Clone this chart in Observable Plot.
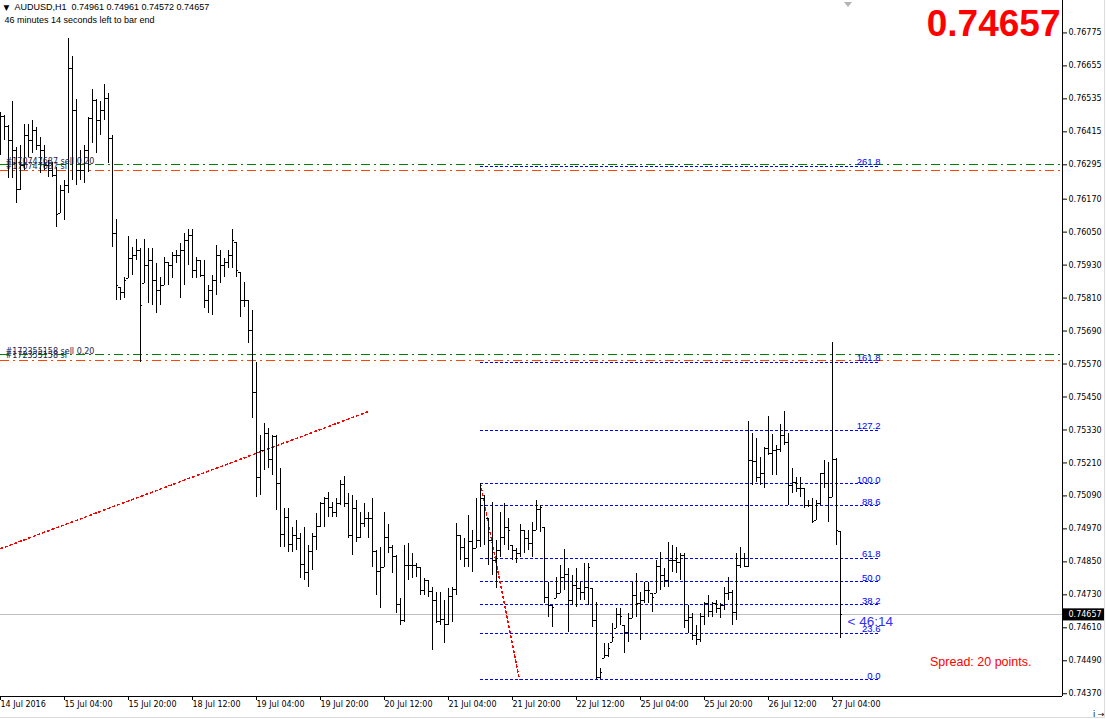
<!DOCTYPE html>
<html>
<head>
<meta charset="utf-8">
<script src="https://cdn.jsdelivr.net/npm/d3@7"></script>
<script src="https://cdn.jsdelivr.net/npm/@observablehq/plot@0.6"></script>
<style>
  body { margin: 0; background: #fff; }
  #wrap { position: relative; width: 1107px; height: 719px; overflow: hidden; }
  #wrap svg { position: absolute; left: 0; top: 0; overflow: visible; }
  .edgeV { position: absolute; left: 1104px; top: 0; width: 1px; height: 718px; background: #dcdcdc; }
  .edgeH { position: absolute; left: 0; top: 717px; width: 1105px; height: 1px; background: #dcdcdc; }
  .shift { position: absolute; left: 844px; top: 2px; width: 0; height: 0;
           border-left: 4px solid transparent; border-right: 4px solid transparent; border-top: 5px solid #b4b4b4; }
</style>
</head>
<body>
<div id="wrap"><div class="edgeV"></div><div class="edgeH"></div><div class="shift"></div></div>
<script>
// ---- AUDUSD H1 bars, index 0 = 14 Jul 2016 12:00 ----
const open = [
0.76420,0.76471,0.76434,0.76383,0.76347,0.76205,0.76292,0.76402,0.76383,0.76420,
0.76365,0.76347,0.76292,0.76274,0.76256,0.76118,0.76201,0.76220,0.76645,0.76493,
0.76274,0.76274,0.76347,0.76463,0.76529,0.76456,0.76493,0.76536,0.76391,0.76045,
0.75848,0.75830,0.75881,0.75954,0.75965,0.75983,0.75863,0.75928,0.75947,0.75874,
0.75837,0.75856,0.75939,0.75928,0.75965,0.75965,0.75983,0.76019,0.76038,0.75910,
0.75947,0.75892,0.75801,0.75837,0.75874,0.75965,0.75928,0.75939,0.75965,0.76012,
0.75903,0.75801,0.75801,0.75692,0.75466,0.75157,0.75255,0.75317,0.75222,0.75306,
0.75135,0.74949,0.75011,0.74913,0.74946,0.74935,0.74840,0.74811,0.74887,0.74942,
0.74978,0.75062,0.75080,0.75048,0.75029,0.75062,0.75131,0.75062,0.74946,0.75044,
0.74938,0.74989,0.75007,0.75007,0.74887,0.74815,0.74829,0.74938,0.74902,0.74869,
0.74694,0.74636,0.74836,0.74836,0.74836,0.74829,0.74745,0.74782,0.74742,0.74709,
0.74633,0.74640,0.74622,0.74724,0.74749,0.74946,0.74902,0.74862,0.74924,0.74898,
0.74927,0.75080,0.75007,0.74927,0.74855,0.74891,0.74938,0.74975,0.74909,0.74891,
0.74880,0.74964,0.74935,0.74917,0.74964,0.75040,0.74975,0.74720,0.74691,0.74716,
0.74735,0.74793,0.74804,0.74709,0.74764,0.74753,0.74738,0.74756,0.74753,0.74636,
0.74429,0.74498,0.74509,0.74556,0.74607,0.74658,0.74618,0.74593,0.74644,0.74727,
0.74698,0.74709,0.74745,0.74735,0.74735,0.74833,0.74800,0.74782,0.74855,0.74855,
0.74847,0.74873,0.74636,0.74647,0.74582,0.74567,0.74651,0.74698,0.74669,0.74698,
0.74680,0.74691,0.74735,0.74738,0.74665,0.74836,0.74862,0.74833,0.75219,0.75215,
0.75157,0.75171,0.75262,0.75244,0.75255,0.75259,0.75310,0.75284,0.75128,0.75138,
0.75117,0.75117,0.75055,0.75055,0.75000,0.75062,0.75171,0.75135,0.75084,0.75222,
0.74961];
const high = [
0.76485,0.76474,0.76438,0.76525,0.76358,0.76365,0.76442,0.76442,0.76456,0.76431,
0.76394,0.76365,0.76311,0.76303,0.76285,0.76220,0.76238,0.76755,0.76689,0.76533,
0.76347,0.76365,0.76467,0.76569,0.76533,0.76525,0.76587,0.76554,0.76402,0.76096,
0.75848,0.75885,0.76034,0.75994,0.76023,0.75990,0.76023,0.75990,0.75990,0.75936,
0.75885,0.75958,0.75939,0.75976,0.75983,0.76009,0.76045,0.76059,0.76059,0.75958,
0.75947,0.75947,0.75856,0.75892,0.76001,0.75983,0.75954,0.75983,0.76059,0.76012,
0.75903,0.75866,0.75801,0.75765,0.75575,0.75310,0.75353,0.75335,0.75310,0.75310,
0.75190,0.75044,0.75044,0.74975,0.75000,0.74953,0.74975,0.74909,0.74953,0.75026,
0.75066,0.75084,0.75102,0.75066,0.75080,0.75146,0.75160,0.75099,0.75091,0.75073,
0.75029,0.75062,0.75029,0.75080,0.74891,0.74902,0.75029,0.74986,0.74909,0.74873,
0.74716,0.74909,0.74917,0.74880,0.74844,0.74829,0.74789,0.74782,0.74756,0.74738,
0.74738,0.74709,0.74753,0.74756,0.74989,0.74946,0.74935,0.75018,0.74964,0.75080,
0.75135,0.75091,0.75007,0.75066,0.74927,0.75029,0.75062,0.75007,0.74909,0.74898,
0.74986,0.74964,0.74964,0.74993,0.75073,0.75055,0.74975,0.74775,0.74691,0.74793,
0.74836,0.74895,0.74826,0.74800,0.74826,0.74775,0.74844,0.74844,0.74753,0.74702,
0.74462,0.74552,0.74552,0.74625,0.74680,0.74680,0.74618,0.74662,0.74775,0.74807,
0.74738,0.74775,0.74775,0.74735,0.74855,0.74884,0.74826,0.74920,0.74909,0.74902,
0.74880,0.74880,0.74691,0.74662,0.74618,0.74662,0.74702,0.74727,0.74702,0.74709,
0.74698,0.74756,0.74793,0.74745,0.74880,0.74902,0.74880,0.75361,0.75317,0.75299,
0.75230,0.75266,0.75379,0.75313,0.75273,0.75350,0.75397,0.75317,0.75190,0.75157,
0.75157,0.75117,0.75073,0.75080,0.75073,0.75171,0.75219,0.75211,0.75648,0.75226,
0.74961];
const low = [
0.76329,0.76383,0.76245,0.76245,0.76154,0.76201,0.76274,0.76321,0.76336,0.76347,
0.76263,0.76274,0.76249,0.76249,0.76067,0.76118,0.76092,0.76190,0.76238,0.76220,
0.76238,0.76227,0.76267,0.76372,0.76336,0.76402,0.76456,0.76300,0.75994,0.75801,
0.75801,0.75808,0.75881,0.75892,0.75947,0.75575,0.75863,0.75790,0.75783,0.75754,
0.75783,0.75856,0.75856,0.75881,0.75936,0.75808,0.75856,0.75928,0.75881,0.75881,
0.75885,0.75772,0.75754,0.75746,0.75819,0.75863,0.75885,0.75918,0.75918,0.75885,
0.75739,0.75775,0.75644,0.75371,0.75084,0.75091,0.75182,0.75190,0.75164,0.75037,
0.74902,0.74902,0.74884,0.74884,0.74891,0.74789,0.74782,0.74756,0.74818,0.74891,
0.74975,0.74975,0.75011,0.75011,0.75011,0.75055,0.75048,0.74935,0.74873,0.74920,
0.74935,0.74975,0.74935,0.74829,0.74727,0.74680,0.74829,0.74880,0.74807,0.74662,
0.74618,0.74629,0.74782,0.74789,0.74793,0.74727,0.74727,0.74720,0.74527,0.74625,
0.74618,0.74552,0.74618,0.74629,0.74727,0.74855,0.74829,0.74829,0.74811,0.74898,
0.74902,0.74909,0.74836,0.74800,0.74753,0.74865,0.74909,0.74891,0.74855,0.74844,
0.74865,0.74880,0.74891,0.74865,0.74964,0.74957,0.74698,0.74647,0.74611,0.74716,
0.74735,0.74745,0.74593,0.74691,0.74683,0.74709,0.74709,0.74691,0.74611,0.74421,
0.74421,0.74498,0.74502,0.74556,0.74607,0.74618,0.74516,0.74556,0.74644,0.74647,
0.74563,0.74698,0.74698,0.74665,0.74735,0.74745,0.74756,0.74756,0.74811,0.74807,
0.74782,0.74607,0.74589,0.74563,0.74545,0.74556,0.74618,0.74647,0.74647,0.74662,
0.74644,0.74673,0.74709,0.74618,0.74636,0.74826,0.74829,0.74829,0.75128,0.75138,
0.75128,0.75117,0.75237,0.75164,0.75164,0.75248,0.75273,0.75055,0.75099,0.75102,
0.75084,0.75044,0.75048,0.74989,0.75000,0.75055,0.75117,0.74993,0.75084,0.74909,
0.74572];
const close = [
0.76471,0.76434,0.76383,0.76347,0.76205,0.76292,0.76402,0.76383,0.76420,0.76365,
0.76347,0.76292,0.76274,0.76256,0.76114,0.76201,0.76220,0.76645,0.76493,0.76274,
0.76274,0.76347,0.76463,0.76529,0.76456,0.76493,0.76536,0.76391,0.76045,0.75856,
0.75830,0.75874,0.75954,0.75965,0.75983,0.75783,0.75928,0.75947,0.75874,0.75837,
0.75856,0.75939,0.75928,0.75965,0.75965,0.75983,0.76019,0.76038,0.75910,0.75947,
0.75892,0.75801,0.75837,0.75874,0.75965,0.75928,0.75939,0.75965,0.76019,0.75910,
0.75801,0.75801,0.75692,0.75466,0.75157,0.75255,0.75317,0.75222,0.75306,0.75135,
0.74949,0.75011,0.74913,0.74946,0.74935,0.74840,0.74811,0.74887,0.74942,0.74978,
0.75062,0.75080,0.75048,0.75029,0.75062,0.75131,0.75062,0.74946,0.75044,0.74938,
0.74989,0.75007,0.75007,0.74887,0.74815,0.74829,0.74938,0.74902,0.74869,0.74694,
0.74636,0.74836,0.74836,0.74836,0.74829,0.74745,0.74782,0.74742,0.74709,0.74633,
0.74640,0.74622,0.74724,0.74749,0.74946,0.74902,0.74862,0.74924,0.74898,0.74927,
0.75080,0.75055,0.74927,0.74855,0.74891,0.74938,0.74975,0.74964,0.74891,0.74880,
0.74964,0.74935,0.74917,0.74964,0.75040,0.75048,0.74720,0.74691,0.74683,0.74735,
0.74793,0.74804,0.74709,0.74764,0.74753,0.74738,0.74756,0.74829,0.74636,0.74429,
0.74447,0.74509,0.74534,0.74574,0.74658,0.74651,0.74593,0.74644,0.74727,0.74698,
0.74709,0.74745,0.74745,0.74720,0.74833,0.74800,0.74782,0.74855,0.74855,0.74847,
0.74873,0.74636,0.74647,0.74582,0.74567,0.74651,0.74698,0.74669,0.74698,0.74680,
0.74691,0.74735,0.74738,0.74665,0.74836,0.74862,0.74833,0.75219,0.75215,0.75157,
0.75171,0.75262,0.75244,0.75255,0.75259,0.75310,0.75284,0.75128,0.75138,0.75117,
0.75117,0.75055,0.75055,0.74997,0.75062,0.75171,0.75135,0.75084,0.75222,0.74964,
0.74657];

// ---- axes ----
const xTicks = [0, 16, 32, 48, 64, 80, 96, 112, 128, 144, 160, 176, 192, 208];
const xLabels = ["14 Jul 2016", "15 Jul 04:00", "15 Jul 20:00", "18 Jul 12:00", "19 Jul 04:00",
  "19 Jul 20:00", "20 Jul 12:00", "21 Jul 04:00", "21 Jul 20:00", "22 Jul 12:00",
  "25 Jul 04:00", "25 Jul 20:00", "26 Jul 12:00", "27 Jul 04:00"];
const yTicks = [0.76775, 0.76655, 0.76535, 0.76415, 0.76295, 0.76170, 0.76050, 0.75930, 0.75810,
  0.75690, 0.75570, 0.75450, 0.75330, 0.75210, 0.75090, 0.74970, 0.74850, 0.74730, 0.74610,
  0.74490, 0.74370];
const xDomain = [0, 265.5];
const yDomain = [0.74360, 0.76893];

// ---- chart objects ----
const fibLevels = [0.0, 23.6, 38.2, 50.0, 61.8, 88.6, 100.0, 127.2, 161.8, 261.8];
const fibLow = 0.74421, fibHigh = 0.75135;
const fibSpan = [120, 220];
const fibAnchor = [{i: 120, p: 0.75135}, {i: 129.75, p: 0.74421}];
const trendLine = [{i: 0, p: 0.74898}, {i: 92, p: 0.75397}];
const orderIds = ["#170747687", "#172355158"];
const orderPrices = [0.76296, 0.75603];
const orderSL = [0.76274, 0.75583];
const orderLots = ["sell 0.20", "sell 0.20"];
const symbol = "AUDUSD", period = "H1";
const countdown = "46 minutes 14 seconds left to bar end";
const countdownShort = "< 46:14";
const spreadText = "Spread: 20 points.";

const rows = open.map((o, i) => ({i, o, h: high[i], l: low[i], c: close[i]}));
const last = rows[rows.length - 1];
const orders = orderIds.map((id, k) => ({id, price: orderPrices[k], sl: orderSL[k], lots: orderLots[k]}));
const fibRows = fibLevels.map(v => ({v, p: fibLow + (fibHigh - fibLow) * v / 100}));
const f5 = d => d.toFixed(5);
const header = symbol + "," + period + "\u00A0\u00A0" + [last.o, last.h, last.l, last.c].map(f5).join("\u00A0");

const GREEN = "#008000", ORANGE = "#ff4500", BLUE = "#0000ff";
const DASHDOT = "9,4,2,4";
const UI = "'Liberation Sans', Arial, sans-serif";
const CRISP = "crispEdges";

const plot = Plot.plot({
  width: 1107, height: 719,
  marginTop: 0, marginRight: 45, marginBottom: 23, marginLeft: 0,
  x: {type: "linear", domain: xDomain, axis: null},
  y: {type: "linear", domain: yDomain, axis: null},
  style: {fontFamily: "'DejaVu Sans', sans-serif", fontSize: "8px", color: "#000", background: "transparent"},
  marks: [
    // order lines
    Plot.ruleY(orders, {y: "price", stroke: GREEN, strokeWidth: 1, strokeDasharray: DASHDOT, shapeRendering: CRISP}),
    Plot.ruleY(orders, {y: "sl", stroke: ORANGE, strokeWidth: 1, strokeDasharray: DASHDOT, shapeRendering: CRISP}),
    // current bid line
    Plot.ruleY([last.c], {stroke: "#c0c0c0", shapeRendering: CRISP}),
    // fibonacci levels
    Plot.ruleY(fibRows, {y: "p", x1: fibSpan[0], x2: fibSpan[1], stroke: BLUE, strokeDasharray: "3,2", shapeRendering: CRISP}),
    Plot.text(fibRows, {x: fibSpan[1], y: "p", text: d => d.v.toFixed(1), textAnchor: "end",
      lineAnchor: "bottom", dy: -1, fill: BLUE, fontSize: 9.5, fontFamily: UI}),
    Plot.line(fibAnchor, {x: "i", y: "p", stroke: "#ff0000", strokeDasharray: "2,3", shapeRendering: CRISP}),
    Plot.line(trendLine, {x: "i", y: "p", stroke: "#ff0000", strokeDasharray: "2,3", shapeRendering: CRISP}),
    // bars
    Plot.ruleX(rows, {x: "i", y1: "l", y2: "h", stroke: "#000", strokeWidth: 1, shapeRendering: CRISP}),
    Plot.ruleY(rows, {y: "o", x1: d => d.i - 0.5, x2: "i", stroke: "#000", shapeRendering: CRISP}),
    Plot.ruleY(rows, {y: "c", x1: "i", x2: d => d.i + 0.5, stroke: "#000", shapeRendering: CRISP}),
    // order labels
    Plot.text(orders, {frameAnchor: "left", y: "price", text: d => d.id + " " + d.lots, textAnchor: "start",
      lineAnchor: "bottom", dx: 5, dy: -1, fill: "#1c1c50", fontSize: 8}),
    Plot.text(orders, {frameAnchor: "left", y: "sl", text: d => d.id + " sl", textAnchor: "start",
      lineAnchor: "bottom", dx: 5, dy: -2, fill: "#1c1c50", fontSize: 8}),
    // frame lines
    Plot.ruleX([xDomain[1]], {stroke: "#000", shapeRendering: CRISP}),
    Plot.ruleY([yDomain[0]], {stroke: "#000", shapeRendering: CRISP}),
    // axes
    Plot.axisY(yTicks, {anchor: "right", tickSize: 4, tickPadding: 2, tickFormat: f5, fontSize: 8}),
    Plot.axisX(xTicks, {anchor: "bottom", tickSize: 4, tickPadding: 1, textAnchor: "start", dx: 0,
      tickFormat: d => xLabels[xTicks.indexOf(d)], fontSize: 8}),
    // current price tag on axis
    Plot.rect([last.c], {x1: xDomain[1] + 0.25, x2: xDomain[1] + 10.5, y1: d => d - 0.00022, y2: d => d + 0.00022, fill: "#000"}),
    Plot.text([last.c], {x: xDomain[1], y: d => d, text: f5, textAnchor: "start", dx: 6, fill: "#fff", fontSize: 8}),
    // countdown near price
    Plot.text([last.c], {x: last.i, y: d => d, text: () => countdownShort, textAnchor: "start", dx: 7, dy: 7,
      fill: "#3030ff", fontSize: 13.5, fontFamily: UI}),
    // header
    Plot.text(["\u25BC"], {frameAnchor: "top-left", text: d => d, textAnchor: "start", lineAnchor: "top",
      dx: 3, dy: 4, fontSize: 7.5, fill: "#000"}),
    Plot.text([header], {frameAnchor: "top-left", text: d => d, textAnchor: "start", lineAnchor: "top",
      dx: 14, dy: 3, fontSize: 9, fill: "#000", fontFamily: UI}),
    Plot.text([countdown], {frameAnchor: "top-left", text: d => d, textAnchor: "start", lineAnchor: "top",
      dx: 4, dy: 16, fontSize: 9, fill: "#000", fontFamily: UI}),
    // big price
    Plot.text([last.c], {frameAnchor: "top-right", text: f5, textAnchor: "end", lineAnchor: "top",
      dx: -2, dy: 9, fontSize: 37, fontWeight: "bold", fill: "#ff0000", fontFamily: UI}),
    // spread
    Plot.text([spreadText], {frameAnchor: "bottom-right", text: d => d, textAnchor: "end", lineAnchor: "bottom",
      dx: -31, dy: -31, fontSize: 12.5, fill: "#ff0000", fontFamily: UI})
  ]
});
document.getElementById("wrap").appendChild(plot);
</script>
</body>
</html>
